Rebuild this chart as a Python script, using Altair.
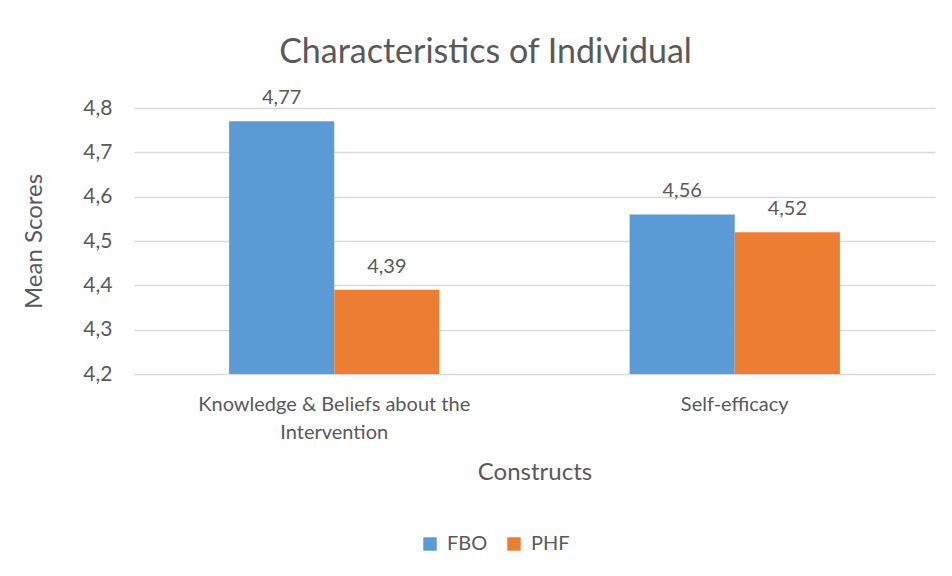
import altair as alt
import pandas as pd

constructs = ["Knowledge & Beliefs about the Intervention", "Self-efficacy"]
groups = ["FBO", "PHF"]
fbo = [4.77, 4.56]
phf = [4.39, 4.52]
colors = ["#5B9BD5", "#ED7D31"]

rows = []
for i, c in enumerate(constructs):
    rows.append({"Construct": c, "Group": "FBO", "Score": fbo[i]})
    rows.append({"Construct": c, "Group": "PHF", "Score": phf[i]})
df = pd.DataFrame(rows)
df["Label"] = df["Score"].map(lambda v: f"{v:.2f}".replace(".", ","))

FONT = "Lato"
TXT = "#595959"

x = alt.X(
    "Construct:N",
    sort=constructs,
    scale=alt.Scale(paddingInner=0.475, paddingOuter=0.2375),
    axis=alt.Axis(
        title="Constructs",
        labelAngle=0,
        labelExpr="datum.label == 'Knowledge & Beliefs about the Intervention' ? ['Knowledge & Beliefs about the', 'Intervention'] : datum.label",
        labelLimit=600,
        labelFontSize=20,
        labelLineHeight=28,
        labelPadding=20,
        labelColor=TXT,
        labelFont=FONT,
        titleFontSize=24,
        titleFont=FONT,
        titleColor=TXT,
        titleFontWeight="normal",
        titlePadding=18,
        ticks=False,
        domain=False,
        grid=False,
    ),
)

y = alt.Y(
    "Score:Q",
    scale=alt.Scale(domain=[4.2, 4.8], zero=False, nice=False),
    axis=alt.Axis(
        title="Mean Scores",
        values=[4.2, 4.3, 4.4, 4.5, 4.6, 4.7, 4.8],
        labelExpr="replace(format(datum.value, '.1f'), '.', ',')",
        labelFontSize=21,
        labelColor=TXT,
        labelFont=FONT,
        labelPadding=22,
        titleFontSize=24,
        titleFont=FONT,
        titleColor=TXT,
        titleFontWeight="normal",
        titlePadding=36,
        ticks=False,
        domain=False,
        gridColor="#D9D9D9",
        gridWidth=1.5,
    ),
)

base = alt.Chart(df)

bars = base.mark_bar().encode(
    x=x,
    xOffset=alt.XOffset("Group:N", sort=groups),
    y=y,
    y2=alt.datum(4.2),
    color=alt.Color(
        "Group:N",
        sort=groups,
        scale=alt.Scale(domain=groups, range=colors),
        legend=alt.Legend(
            title=None,
            orient="none",
            direction="horizontal",
            legendX=286,
            legendY=426,
            symbolType="square",
            symbolSize=180,
            symbolStrokeWidth=0,
            labelFontSize=20,
            labelFont=FONT,
            labelColor=TXT,
            columnPadding=16,
            labelOffset=7,
        ),
    ),
)

labels = base.mark_text(
    baseline="bottom", dy=-13, fontSize=20, font=FONT, color=TXT
).encode(
    x=alt.X("Construct:N", sort=constructs),
    xOffset=alt.XOffset("Group:N", sort=groups),
    y=alt.Y("Score:Q"),
    text="Label:N",
)

chart = (
    alt.layer(bars, labels)
    .properties(
        width=801,
        height=266,
        background="white",
        title=alt.TitleParams(
            "Characteristics of Individual",
            fontSize=34,
            font=FONT,
            color=TXT,
            fontWeight="normal",
            anchor="middle",
            dx=-49,
            offset=18,
        ),
        autosize=alt.AutoSizeParams(type="none"),
        padding={"left": 126, "top": 100, "right": 9, "bottom": 194},
    )
    .configure_view(strokeWidth=0)
    .configure_axisX(grid=False)
)

chart.save("out.html", embed_options={"renderer": "svg", "actions": False})
